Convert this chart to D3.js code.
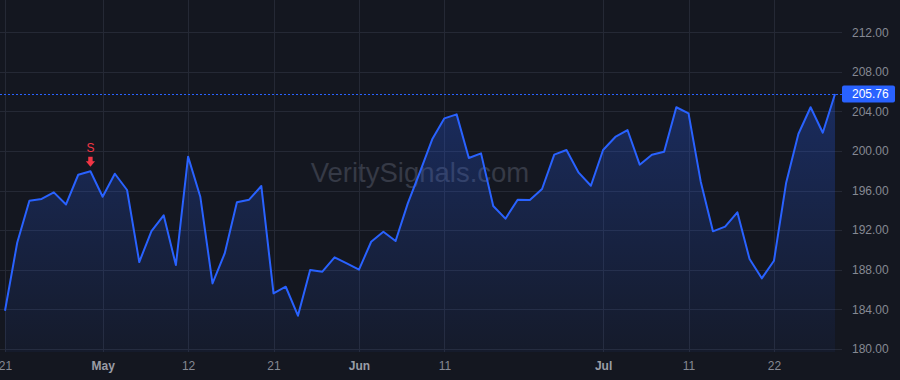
<!DOCTYPE html>
<html lang="en">
   <head>
      <meta charset="UTF-8">
      <script type="text/javascript" src="https://d3js.org/d3.v7.min.js"></script>
      <style>
         html, body {
            margin: 0;
            padding: 0;
            background: #141720;
         }
         body {
            font: 12px "Liberation Sans", Arial, sans-serif;
         }
         .grid line {
            stroke: #252935;
            stroke-width: 1px;
            shape-rendering: crispEdges;
         }
         .grid path {
            stroke-width: 0;
         }
         .line {
            fill: none;
            stroke: #2962ff;
            stroke-width: 2px;
            stroke-linejoin: round;
         }
         .axis path, .axis line {
            display: none;
         }
         .axis text {
            fill: #868993;
            font-size: 12px;
            font-family: "Liberation Sans", Arial, sans-serif;
         }
         .axis text.month {
            font-weight: bold;
            fill: #9a9da6;
         }
      </style>
   </head>
   <body>
      <script>
      // closing prices, one per trading day, Apr 21 .. Jul 29
      var closes = [
         183.85, 190.73, 194.97, 195.15, 195.82, 194.60, 197.60, 197.95, 195.38, 197.70,
         196.06, 188.78, 191.90, 193.50, 188.47, 199.43, 195.38, 186.62, 189.65, 194.81,
         195.08, 196.46, 185.61, 186.28, 183.35, 187.97, 187.80, 189.25, 188.64, 188.00,
         190.83, 191.84, 190.90, 194.71, 197.90, 201.18, 203.30, 203.70, 199.29, 199.76,
         194.44, 193.16, 195.08, 195.05, 196.16, 199.63, 200.10, 197.81, 196.49, 200.10,
         201.42, 202.12, 198.62, 199.63, 199.93, 204.42, 203.81, 196.90, 191.88, 192.35,
         193.80, 189.08, 187.13, 188.91, 196.80, 201.72, 204.42, 201.85, 205.76
      ];

      // time axis ticks (bar index) and their labels
      var xTickIndex = [0, 8, 15, 22, 29, 36, 49, 56, 63];
      var xTickLabels = ["21", "May", "12", "21", "Jun", "11", "Jul", "11", "22"];
      var monthLabels = ["May", "Jun", "Jul"];

      // price axis ticks
      var yTicks = [180, 184, 188, 192, 196, 200, 204, 208, 212];

      // signal markers
      var signalIndex = [7];
      var signalLabels = ["S"];

      var watermark = "VeritySignals.com";

      // chart geometry
      var W = 900, H = 380,
         paneWidth = 842,
         paneHeight = 352;

      var lastPrice = closes[closes.length - 1];

      var xscale = d3.scaleLinear()
         .domain([0, closes.length - 1])
         .range([5, 835]);

      var yscale = d3.scaleLinear()
         .domain([200, 184])
         .range([151, 309.3]);

      var svg = d3.select("body").append("svg")
         .attr("width", W)
         .attr("height", H)
         .style("display", "block");

      svg.append("rect")
         .attr("width", W)
         .attr("height", H)
         .attr("fill", "#141720");

      // gradient for the area under the line
      var defs = svg.append("defs");
      var grad = defs.append("linearGradient")
         .attr("id", "areaGrad")
         .attr("gradientUnits", "userSpaceOnUse");
      grad.append("stop").attr("offset", "0%").attr("stop-color", "#2962ff").attr("stop-opacity", 0.28);
      grad.append("stop").attr("offset", "100%").attr("stop-color", "#2962ff").attr("stop-opacity", 0.05);

      defs.append("clipPath")
         .attr("id", "paneClip")
         .append("rect")
         .attr("width", paneWidth)
         .attr("height", paneHeight);

      var pane = svg.append("g").attr("clip-path", "url(#paneClip)");

      // vertical grid
      pane.append("g")
         .attr("class", "grid")
         .attr("transform", "translate(0," + paneHeight + ")")
         .call(d3.axisBottom(xscale)
            .tickValues(xTickIndex)
            .tickSize(-paneHeight)
            .tickFormat("")
         );

      // horizontal grid
      pane.append("g")
         .attr("class", "grid")
         .call(d3.axisLeft(yscale)
            .tickValues(yTicks)
            .tickSize(-paneWidth)
            .tickFormat("")
         );

      // watermark
      pane.append("text")
         .attr("x", 420)
         .attr("y", 182)
         .attr("text-anchor", "middle")
         .style("font-family", "'Liberation Sans', Arial, sans-serif")
         .style("font-size", "27.5px")
         .style("fill", "#363a46")
         .text(watermark);

      var area = d3.area()
         .x(function(d, i) { return xscale(i); })
         .y0(paneHeight)
         .y1(function(d) { return yscale(d); });

      // gradient runs from the highest close to the pane bottom
      grad.attr("x1", 0).attr("y1", yscale(d3.max(closes)))
         .attr("x2", 0).attr("y2", paneHeight);

      pane.append("path")
         .datum(closes)
         .attr("fill", "url(#areaGrad)")
         .attr("d", area);

      // last price dashed line
      pane.append("line")
         .attr("x1", 0)
         .attr("x2", paneWidth)
         .attr("y1", yscale(lastPrice))
         .attr("y2", yscale(lastPrice))
         .attr("stroke", "#2962ff")
         .attr("stroke-width", 1)
         .attr("stroke-dasharray", "2,2")
         .style("shape-rendering", "crispEdges");

      var line = d3.line()
         .x(function(d, i) { return xscale(i); })
         .y(function(d) { return yscale(d); });

      pane.append("path")
         .datum(closes)
         .attr("class", "line")
         .attr("d", line);

      // sell markers above the bar
      var sig = pane.selectAll(".signal")
         .data(signalIndex)
         .enter().append("g")
         .attr("class", "signal")
         .attr("transform", function(d) {
            return "translate(" + xscale(d) + "," + yscale(closes[d]) + ")";
         });

      sig.append("path")
         .attr("d", "M-2.2,-14.5 L2.2,-14.5 L2.2,-10 L4.6,-10 L0,-4.6 L-4.6,-10 L-2.2,-10 Z")
         .attr("fill", "#f23645");

      sig.append("text")
         .attr("y", -19)
         .attr("text-anchor", "middle")
         .style("font-size", "12px")
         .style("fill", "#f23645")
         .text(function(d, i) { return signalLabels[i]; });

      // time axis
      var xAxis = svg.append("g")
         .attr("class", "axis")
         .attr("transform", "translate(0," + paneHeight + ")")
         .call(d3.axisBottom(xscale)
            .tickValues(xTickIndex)
            .tickSize(0)
            .tickPadding(18)
            .tickFormat(function(d, i) { return xTickLabels[i]; })
         );

      xAxis.selectAll("text")
         .attr("dy", "0")
         .classed("month", function(d, i) { return monthLabels.indexOf(xTickLabels[i]) >= 0; });

      // price axis
      svg.append("g")
         .attr("class", "axis")
         .attr("transform", "translate(" + paneWidth + ",0)")
         .call(d3.axisRight(yscale)
            .tickValues(yTicks)
            .tickSize(0)
            .tickPadding(10)
            .tickFormat(d3.format(".2f"))
         );

      // last price label
      var lp = svg.append("g")
         .attr("transform", "translate(" + paneWidth + "," + yscale(lastPrice) + ")");

      lp.append("rect")
         .attr("x", 0)
         .attr("y", -8.5)
         .attr("width", 53)
         .attr("height", 17)
         .attr("rx", 2)
         .attr("fill", "#2962ff");

      lp.append("text")
         .attr("x", 10)
         .attr("dy", "0.32em")
         .style("font-size", "12px")
         .style("fill", "#ffffff")
         .text(d3.format(".2f")(lastPrice));
      </script>
   </body>
</html>
